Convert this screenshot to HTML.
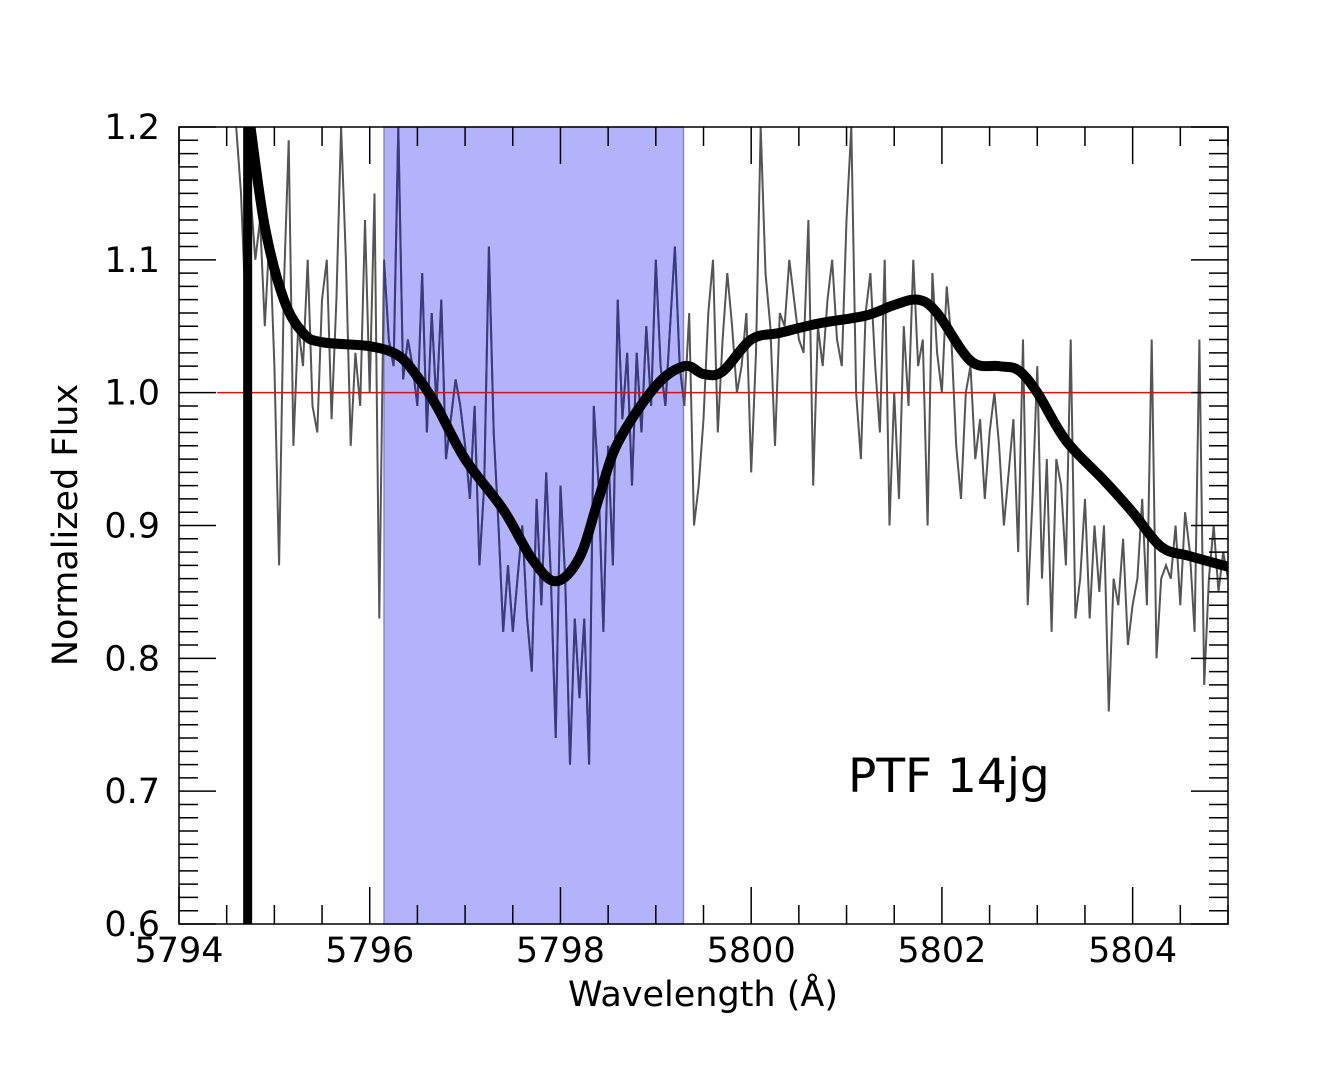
<!DOCTYPE html>
<html><head><meta charset="utf-8"><style>
html,body{margin:0;padding:0;background:#fff;}
svg{display:block;font-family:"DejaVu Sans","Liberation Sans",sans-serif;}
</style></head><body>
<svg id="chart" width="1333" height="1066" viewBox="0 0 1333 1066" xmlns="http://www.w3.org/2000/svg">
<defs><clipPath id="clip"><rect x="179" y="127" width="1049" height="797"/></clipPath></defs>
<g id="band"></g>
<g id="marks" clip-path="url(#clip)"></g>
<rect x="179" y="127" width="1049" height="797" fill="none" stroke="#000" stroke-width="1.5"/>
<g id="ticks"></g>
<text x="703" y="1006" font-size="35" text-anchor="middle">Wavelength (Å)</text>
<text transform="translate(77,525) rotate(-90)" font-size="35" text-anchor="middle">Normalized Flux</text>
<text x="848" y="792" font-size="47">PTF 14jg</text>
</svg>
<script>
const xTicks=[5794,5796,5798,5800,5802,5804];
const yTicks=[0.6,0.7,0.8,0.9,1.0,1.1,1.2];
const bandRange=[5796.15,5799.29];
const refLevel=1.0;
const noiseStart=5794.6, noiseStep=0.05;
const noiseFlux=[1.2,1.15,1.06,1.15,1.1,1.13,1.05,1.12,1.02,0.87,1.08,1.19,0.96,1.05,1.02,1.1,0.99,0.97,1.07,1.1,0.98,1.07,1.2,1.1,0.96,1.03,0.99,1.13,1.0,1.15,0.83,1.1,1.04,
1.02,1.2,1.01,1.04,1.02,0.99,1.09,0.97,1.06,0.99,1.07,0.95,0.98,1.01,0.99,0.96,0.92,0.99,0.87,0.93,1.11,0.97,0.9,0.82,0.87,0.82,0.86,0.9,0.83,0.79,0.92,0.84,0.94,0.86,0.74,0.93,0.86,0.72,0.83,0.77,0.83,0.72,0.99,0.93,0.82,0.96,0.87,1.07,0.98,1.03,0.93,1.03,0.97,1.05,0.99,1.1,1.02,
0.99,1.05,1.11,1.02,0.99,1.06,0.9,0.93,0.98,1.06,1.1,0.97,1.04,1.09,1.05,1.0,1.02,1.06,0.94,1.03,1.2,1.09,1.05,0.96,1.06,1.05,1.1,1.07,1.04,1.03,1.13,0.93,1.05,1.02,1.07,1.1,1.04,1.02,1.13,1.2,1.0,0.95,1.06,1.09,1.02,0.97,1.1,0.9,1.0,0.92,1.05,0.99,1.1,1.02,1.04,0.9,1.09,1.03,1.0,1.08,1.04,0.96,0.92,1.0,1.02,0.95,0.98,0.92,0.97,1.0,0.96,0.9,0.94,0.98,0.88,1.04,0.84,0.92,1.02,0.86,0.95,0.82,0.95,0.93,0.87,1.04,0.83,0.86,0.92,0.83,0.9,0.85,0.9,0.76,0.86,0.84,0.89,0.81,0.84,0.86,0.92,0.84,1.04,0.8,0.86,0.87,0.86,0.9,0.84,0.91,0.88,0.82,1.04,0.78,0.86,0.9,0.85,0.88,0.86];
const fitX=[5794.75,5794.9,5795.1,5795.3,5795.5,5796.0,5796.3,5796.5,5796.7,5797.0,5797.4,5797.7,5797.95,5798.2,5798.4,5798.6,5799.0,5799.3,5799.5,5799.7,5800.0,5800.3,5800.7,5801.2,5801.5,5801.75,5801.95,5802.3,5802.6,5802.8,5803.0,5803.3,5803.7,5804.0,5804.3,5804.6,5805.0];
const fitY=[1.2,1.125,1.07,1.045,1.038,1.035,1.028,1.012,0.99,0.95,0.912,0.875,0.858,0.876,0.92,0.962,1.005,1.02,1.014,1.016,1.04,1.045,1.052,1.058,1.066,1.07,1.06,1.024,1.02,1.017,1.0,0.964,0.934,0.91,0.884,0.877,0.869];
const edgeX=5794.72;
const X0=179,X1=1228,Y0=924,Y1=127;
const xs=v=>X0+(v-5794)/(5805-5794)*(X1-X0);
const ys=v=>Y0-(v-0.6)/(1.2-0.6)*(Y0-Y1);
const NS="http://www.w3.org/2000/svg";
function mk(t,p,at){const e=document.createElementNS(NS,t);for(const k in at)e.setAttribute(k,at[k]);p.appendChild(e);return e;}
const band=document.getElementById('band'),marks=document.getElementById('marks'),ticks=document.getElementById('ticks');
const br=mk('rect',band,{x:xs(bandRange[0]),y:Y1,width:xs(bandRange[1])-xs(bandRange[0]),height:Y0-Y1,fill:'#b3b3fc',stroke:'#8888bb','stroke-width':1.5});


let d='';noiseFlux.forEach((v,i)=>{d+=(i?'L':'M')+xs(noiseStart+i*noiseStep).toFixed(1)+','+ys(v).toFixed(1);});
const defs=document.querySelector('defs');
const cp=mk('clipPath',defs,{id:'bclip'});mk('rect',cp,{x:xs(bandRange[0]),y:Y1,width:xs(bandRange[1])-xs(bandRange[0]),height:Y0-Y1});
const nl=mk('path',marks,{d:d,fill:'none',stroke:'#555','stroke-width':2});


const bl=mk('path',marks,{d:d,fill:'none',stroke:'#3a3a80','stroke-width':2,'clip-path':'url(#bclip)'});


const rl=mk('line',marks,{x1:xs(5794.4),x2:xs(5804.75),y1:ys(refLevel),y2:ys(refLevel),stroke:'#ff0000','stroke-width':1.5});


const el=mk('line',marks,{x1:xs(edgeX),x2:xs(edgeX),y1:ys(0.6),y2:ys(1.2),stroke:'#000','stroke-width':9});


const P=fitX.map((x,i)=>[xs(x),ys(fitY[i])]);
let fd='M'+P[0][0].toFixed(1)+','+P[0][1].toFixed(1);
for(let i=0;i<P.length-1;i++){const p0=P[Math.max(0,i-1)],p1=P[i],p2=P[i+1],p3=P[Math.min(P.length-1,i+2)];
const c1=[p1[0]+(p2[0]-p0[0])/6,p1[1]+(p2[1]-p0[1])/6],c2=[p2[0]-(p3[0]-p1[0])/6,p2[1]-(p3[1]-p1[1])/6];
fd+='C'+c1[0].toFixed(1)+','+c1[1].toFixed(1)+' '+c2[0].toFixed(1)+','+c2[1].toFixed(1)+' '+p2[0].toFixed(1)+','+p2[1].toFixed(1);}
const fl=mk('path',marks,{d:fd,fill:'none',stroke:'#000','stroke-width':10,'stroke-linejoin':'round','stroke-linecap':'round'});


for(let v=5794;v<=5805.001;v+=0.5){const maj=Math.abs(v/2-Math.round(v/2))<1e-6;const L=maj?37:19;const x=xs(v);
mk('line',ticks,{x1:x,x2:x,y1:Y0,y2:Y0-L,stroke:'#000','stroke-width':1.5});mk('line',ticks,{x1:x,x2:x,y1:Y1,y2:Y1+L,stroke:'#000','stroke-width':1.5});}
for(let i=0;i<=60;i++){const v=0.6+i*0.01;const maj=i%10==0;const L=maj?37:19;const y=ys(v);
mk('line',ticks,{x1:X0,x2:X0+L,y1:y,y2:y,stroke:'#000','stroke-width':1.5});mk('line',ticks,{x1:X1,x2:X1-L,y1:y,y2:y,stroke:'#000','stroke-width':1.5});}
xTicks.forEach(v=>{const t=mk('text',ticks,{x:xs(v),y:962,'font-size':35,'text-anchor':'middle'});t.textContent=v;

});
yTicks.forEach(v=>{const t=mk('text',ticks,{x:160,y:ys(v)+12,'font-size':35,'text-anchor':'end'});t.textContent=v.toFixed(1);

});
</script>
</body></html>
